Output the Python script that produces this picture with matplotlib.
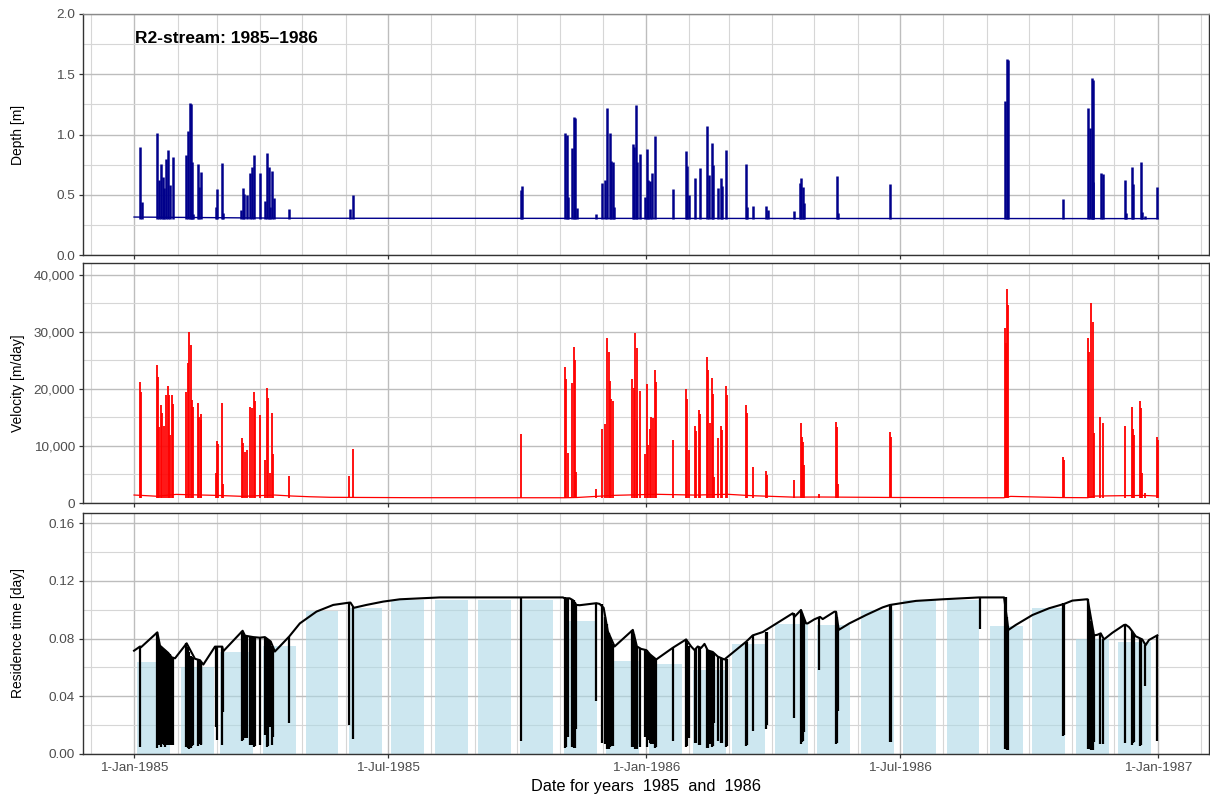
import numpy as np
import matplotlib
matplotlib.use("Agg")
import matplotlib.pyplot as plt
import matplotlib.dates as mdates
from matplotlib.ticker import FuncFormatter, MultipleLocator
from datetime import datetime

plt.rcParams['font.family'] = ['Liberation Sans', 'DejaVu Sans']

# ---------------- data (days counted from 1-Jan-1985) ----------------
depth_base_days = [0, 112, 730]
depth_base_vals = [0.315, 0.305, 0.302]

depth_spike_days = [4.3, 5.5, 16.4, 18.0, 19.2, 20.4, 21.6, 22.6, 24.4, 25.6, 27.6, 37.0, 38.5, 39.7, 40.4,
                    41.3, 42.2, 45.6, 46.3, 47.5, 58.2, 59.3, 62.7, 63.6, 76.4, 77.4, 78.6, 80.3, 82.8, 83.8,
                    85.5, 89.5, 93.5, 94.7, 95.9, 97.1, 98.5, 99.5, 110.6, 153.8, 155.8,
                    276.1, 276.6, 307.5, 308.4, 309.3, 312.2, 313.6, 314.3, 315.5, 329.3, 333.3, 336.0, 337.4,
                    339.0, 340.4, 341.4, 342.4, 355.6, 356.6, 357.6, 358.3, 360.4, 364.5, 365.6, 366.6, 368.0,
                    369.4, 371.6, 384.4, 393.6, 394.4, 395.5, 399.6, 403.3, 408.8, 410.0, 411.7, 412.6, 416.4,
                    418.5, 419.2, 422.1, 436.6, 437.3, 441.6, 450.6, 451.7,
                    470.3, 475.1, 475.5, 476.7, 477.9, 500.9, 501.9, 538.9, 621.1, 622.7, 623.4, 662.6, 680.4,
                    681.4, 682.8, 683.5, 684.0, 689.2, 691.1, 706.5, 707.0, 711.5, 712.4, 717.7, 718.4, 720.8,
                    729.3]
depth_spike_peaks = [0.894, 0.44, 1.015, 0.62, 0.755, 0.645, 0.56, 0.80, 0.87, 0.58, 0.81, 0.83, 1.03, 1.259, 1.25,
                     0.774, 0.34, 0.755, 0.567, 0.69, 0.395, 0.545, 0.76, 0.35, 0.37, 0.56, 0.51, 0.50, 0.68, 0.73,
                     0.83, 0.68, 0.45, 0.85, 0.73, 0.40, 0.70, 0.47, 0.38, 0.38, 0.50,
                     0.54, 0.575, 1.01, 1.0, 0.48, 0.89, 1.148, 1.14, 0.39, 0.34, 0.60, 0.625, 1.217,
                     1.01, 0.78, 0.77, 0.40, 0.92, 0.90, 1.245, 0.77, 0.84, 0.48, 0.88, 0.62, 0.61,
                     0.68, 0.99, 0.55, 0.86, 0.74, 0.50, 0.64, 0.72, 1.07, 0.66, 0.93, 0.75, 0.56,
                     0.64, 0.57, 0.87, 0.755, 0.40, 0.41, 0.405, 0.37,
                     0.368, 0.595, 0.636, 0.567, 0.434, 0.656, 0.35, 0.589, 1.281, 1.624, 1.618, 0.462, 1.217,
                     1.051, 1.466, 1.45, 0.608, 0.678, 0.673, 0.622, 0.35, 0.728, 0.589, 0.774, 0.36, 0.32,
                     0.567]

vel_base_days = [0, 16, 30, 58, 77, 100, 112, 125, 140, 200, 307, 316, 342, 372, 400, 423, 440, 470, 490, 540,
                 600, 620, 625, 660, 680, 685, 720, 730]
vel_base_vals = [1400, 1190, 1510, 1340, 1170, 1400, 1230, 1100, 1000, 930, 920, 970, 1340, 1530, 1390, 1530,
                 1290, 1030, 1050, 970, 920, 920, 1160, 960, 930, 1220, 1330, 1220]

vel_spike_days = [4.3, 5.0, 16.4, 17.1, 17.6, 19.2, 20.2, 21.4, 22.6, 24.0, 24.9, 25.6, 27.3, 28.0, 37.0, 38.2,
                  39.4, 40.4, 41.3, 42.2, 45.4, 46.3, 47.5, 47.9, 58.2, 59.3, 59.8, 62.7, 63.4, 76.9, 77.8, 79.1,
                  80.5, 82.8, 84.0, 85.5, 86.2, 89.5, 93.5, 94.7, 95.7, 96.9, 98.1, 99.2, 110.4, 153.6, 155.8,
                  276.1, 307.2, 308.2, 309.3, 312.2, 313.4, 314.1, 315.3, 329.3, 333.3, 336.0, 337.1, 338.3,
                  339.3, 340.4, 341.6, 355.2, 356.1, 357.1, 358.3, 358.8, 360.4, 364.5, 365.4, 366.6, 367.5,
                  368.9, 369.9, 371.3, 372.0, 384.4, 393.4, 394.4, 395.5, 399.6, 400.3, 403.1, 403.8, 408.8,
                  409.5, 410.5, 411.7, 412.6, 413.6, 416.4, 418.3, 419.0, 421.8, 422.6, 436.4, 437.1, 441.6,
                  450.4, 451.3,
                  470.3, 475.3, 476.2, 477.2, 477.9, 488.6, 500.7, 501.4, 502.1, 538.9, 539.4, 620.6, 621.5,
                  622.5, 623.4, 662.4, 663.1, 680.0, 680.9, 682.3, 683.5, 684.4, 688.9, 691.1, 706.5, 711.5,
                  712.4, 713.2, 717.4, 718.1, 718.4, 720.8, 729.3, 729.8]
vel_spike_peaks = [21170, 19530, 24210, 22050, 13280, 17190, 15850, 13510, 18950, 20580, 18950, 11930, 18950,
                   17370, 19530, 24620, 30060, 27720, 18070, 16780, 17490, 15150, 15560, 14560, 5200, 10930,
                   10290, 17600, 3330, 11460, 10580, 9010, 9300, 16900, 16720, 19420, 17950, 15440, 7540, 20120,
                   18360, 5200, 15730, 8540, 4740, 4800, 9420,
                   12050, 23920, 21750, 8710, 21110, 27430, 25090, 5500, 2460, 12920, 13860, 29010, 26550,
                   21460, 18190, 17950, 21700, 20120, 29770, 27140, 14560, 19710, 8600, 20820, 10180, 12920,
                   15030, 14850, 23330, 21290, 11050, 20000, 18250, 9300, 13570, 12690, 16320, 15610, 25560,
                   23330, 13980, 21870, 19120, 4620, 11340, 13570, 12810, 20580, 18950, 17190, 15730, 6260,
                   5670, 4910,
                   4040, 14090, 11640, 10760, 6670, 1520, 14270, 13390, 3330, 12400, 11640, 30760, 28010,
                   37490, 34740, 8010, 7540, 29010, 26550, 35030, 31810, 12220, 15150, 13980, 13510, 16780,
                   12920, 11930, 17950, 16610, 5200, 1810, 11520, 11050]

rt_env_days = [0, 4.3, 5.0, 16.6, 18.5, 20.9, 24.4, 26.8, 29.2, 37.5, 43.4, 47.0, 49.4, 57.7, 62.9, 63.6, 77.4,
               79.1, 85.0, 89.7, 93.3, 97.4, 100.4, 110.6, 118.2, 130.1, 142.0, 153.4, 154.3, 156.7, 165.7,
               177.6, 189.5, 217.9, 248.6, 276.1, 305.8, 307.0, 310.5, 312.9, 315.3, 317.7, 329.6, 331.9,
               334.8, 337.8, 342.6, 355.6, 358.5, 361.6, 365.2, 368.0, 372.3, 384.1, 393.6, 397.2, 399.6,
               401.9, 404.3, 406.7, 409.0, 412.6, 416.2, 420.9, 436.4, 441.1, 448.2, 469.6, 470.8, 475.5,
               479.1, 480.3, 485.0, 489.1, 491.0, 499.3, 500.5, 502.4, 510.0, 521.9, 533.7, 539.0, 557.5,
               576.4, 602.5, 620.3, 623.4, 628.6, 640.5, 652.4, 663.1, 669.0, 679.0, 679.9, 684.4, 686.8,
               689.2, 691.5, 697.5, 705.8, 707.0, 709.4, 711.7, 714.1, 718.8, 721.2, 723.6, 729.5]
rt_env_vals = [0.0716, 0.0745, 0.0740, 0.0843, 0.075, 0.073, 0.070, 0.067, 0.0663, 0.0767, 0.066, 0.065, 0.062,
               0.0744, 0.0744, 0.0712, 0.0854, 0.082, 0.081, 0.0806, 0.081, 0.078, 0.071, 0.0814, 0.0905,
               0.0987, 0.1033, 0.1049, 0.1049, 0.1013, 0.1033, 0.1056, 0.1072, 0.1085, 0.1085, 0.1085, 0.1085,
               0.1079, 0.1079, 0.1066, 0.1033, 0.1031, 0.1045, 0.104, 0.1013, 0.085, 0.0745, 0.0860, 0.0745,
               0.0728, 0.072, 0.0689, 0.0655, 0.0736, 0.0794, 0.0745, 0.072, 0.0745, 0.0735, 0.0763, 0.0718,
               0.0707, 0.0675, 0.0655, 0.0778, 0.0822, 0.0845, 0.0975, 0.095, 0.0998, 0.0905, 0.0905, 0.0933,
               0.095, 0.0935, 0.0986, 0.0986, 0.0860, 0.0905, 0.0963, 0.1016, 0.1033, 0.1061, 0.1072, 0.1085,
               0.1085, 0.0860, 0.0894, 0.0963, 0.1010, 0.104, 0.1063, 0.1072, 0.1072, 0.0822, 0.0826, 0.0836,
               0.0794, 0.0840, 0.0894, 0.0896, 0.0879, 0.0850, 0.0816, 0.0794, 0.0754, 0.079, 0.0822]

rt_dip_days = [4.3, 16.6, 17.4, 18.3, 19.2, 20.2, 21.2, 22.3, 23.3, 24.3, 25.4, 26.5, 27.6, 37.0, 38.2, 39.4,
               40.4, 41.3, 42.2, 45.4, 46.3, 47.5, 47.9, 58.2, 59.3, 62.7, 63.4, 76.9, 77.8, 79.1, 80.5, 82.8,
               84.0, 85.5, 86.2, 89.5, 93.5, 94.7, 95.7, 96.9, 98.1, 99.2, 110.4, 153.6, 155.8, 276.1, 307.2,
               308.2, 309.3, 312.2, 313.4, 314.1, 315.3, 329.3, 333.3, 336.0, 337.1, 338.3, 339.3, 340.4,
               341.6, 355.2, 356.1, 357.1, 358.3, 358.8, 360.4, 364.5, 365.4, 366.6, 367.5, 368.9, 369.9,
               371.3, 372.0, 384.4, 393.4, 394.4, 395.5, 399.6, 400.3, 403.1, 403.8, 408.8, 409.5, 410.5,
               411.7, 412.6, 413.6, 416.4, 418.3, 419.0, 421.8, 422.6, 436.4, 437.1, 441.6, 450.4, 451.3,
               470.3, 475.3, 476.2, 477.2, 477.9, 488.6, 500.7, 501.4, 502.1, 538.9, 539.4, 602.9, 620.6,
               621.5, 622.5, 623.4, 662.4, 663.1, 680.0, 680.9, 682.3, 683.5, 684.4, 688.9, 691.1, 706.5,
               711.5, 712.4, 713.2, 717.4, 718.1, 720.8, 729.3]
rt_dip_lows = [0.005, 0.0045, 0.006, 0.006, 0.005, 0.007, 0.006, 0.005, 0.006, 0.0065, 0.006, 0.006, 0.006,
               0.0051, 0.004, 0.0035, 0.004, 0.0055, 0.006, 0.0057, 0.0066, 0.0064, 0.0069, 0.019, 0.0097,
               0.0065, 0.029, 0.0087, 0.0095, 0.011, 0.0108, 0.0059, 0.006, 0.0051, 0.0056, 0.0065, 0.013,
               0.005, 0.0054, 0.019, 0.0064, 0.0117, 0.0212, 0.020, 0.0101, 0.0093, 0.0045, 0.005, 0.012,
               0.005, 0.004, 0.004, 0.017, 0.037, 0.0074, 0.0072, 0.0034, 0.0038, 0.0047, 0.0055, 0.0056,
               0.0046, 0.005, 0.0034, 0.0037, 0.0069, 0.0051, 0.0116, 0.0048, 0.0098, 0.0077, 0.0067, 0.0067,
               0.0043, 0.0047, 0.009, 0.005, 0.0055, 0.0108, 0.0074, 0.0079, 0.0061, 0.0064, 0.0039, 0.0043,
               0.0072, 0.0046, 0.0052, 0.0216, 0.0088, 0.0074, 0.0078, 0.0049, 0.0053, 0.0058, 0.0064, 0.016,
               0.0176, 0.0204, 0.0248, 0.0071, 0.0086, 0.0093, 0.015, 0.0582, 0.007, 0.0075, 0.030, 0.0081,
               0.0086, 0.0864, 0.0033, 0.0036, 0.0027, 0.0029, 0.0125, 0.0133, 0.0034, 0.0038, 0.0029, 0.0031,
               0.0082, 0.0066, 0.0072, 0.0074, 0.006, 0.0077, 0.0084, 0.0056, 0.006, 0.047, 0.0087]
rt_dip_tops = [0.0745, 0.0843, 0.080, 0.0755, 0.0745, 0.0735, 0.0728, 0.0718, 0.0710, 0.0700, 0.0690, 0.0675,
               0.0668, 0.0767, 0.074, 0.071, 0.068, 0.067, 0.0665, 0.0655, 0.065, 0.064, 0.063, 0.0744, 0.0744,
               0.0744, 0.0712, 0.0854, 0.084, 0.082, 0.0815, 0.081, 0.081, 0.081, 0.0805, 0.0806, 0.081, 0.080,
               0.079, 0.078, 0.075, 0.073, 0.0814, 0.1049, 0.1020, 0.1085, 0.1085, 0.108, 0.108, 0.107, 0.1066,
               0.105, 0.1033, 0.1045, 0.104, 0.095, 0.090, 0.084, 0.081, 0.078, 0.076, 0.086, 0.083, 0.079,
               0.0745, 0.074, 0.073, 0.0722, 0.072, 0.071, 0.0695, 0.068, 0.067, 0.066, 0.0655, 0.0736, 0.0794,
               0.077, 0.0745, 0.072, 0.0725, 0.074, 0.0735, 0.0725, 0.0718, 0.0715, 0.071, 0.0707, 0.070,
               0.0675, 0.0668, 0.0665, 0.066, 0.0655, 0.0778, 0.0776, 0.0822, 0.0845, 0.0843, 0.0975, 0.0998,
               0.098, 0.095, 0.092, 0.095, 0.0986, 0.095, 0.088, 0.1033, 0.1033, 0.1085, 0.1085, 0.1085, 0.095,
               0.086, 0.1045, 0.104, 0.1072, 0.100, 0.092, 0.086, 0.0822, 0.0836, 0.0794, 0.0896, 0.085, 0.084,
               0.083, 0.080, 0.0794, 0.0754, 0.0822]

bar_months = ['1985-01-15', '1985-02-15', '1985-03-15', '1985-04-15', '1985-05-15', '1985-06-15',
              '1985-07-15', '1985-08-15', '1985-09-15', '1985-10-15', '1985-11-15', '1985-12-15',
              '1986-01-15', '1986-02-15', '1986-03-15', '1986-04-15', '1986-05-15', '1986-06-15',
              '1986-07-15', '1986-08-15', '1986-09-15', '1986-10-15', '1986-11-15', '1986-12-15']
bar_values = [0.064, 0.0605, 0.0704, 0.0748, 0.0993, 0.101, 0.1067, 0.107, 0.107, 0.1067, 0.0923, 0.0644,
              0.0626, 0.0582, 0.076, 0.0898, 0.0893, 0.0997, 0.1067, 0.107, 0.089, 0.1013, 0.0794, 0.0778]

title_text = 'R2-stream: 1985\u20131986'
xlabel_text = 'Date for years  1985  and  1986'

# ---------------- helpers ----------------
T0 = mdates.date2num(datetime(1985, 1, 1))


def dnum(days):
    return T0 + np.asarray(days, dtype=float)


W_PX, H_PX = 1210, 798
fig = plt.figure(figsize=(W_PX / 100, H_PX / 100), dpi=100)
L = 83 / W_PX
W = (1209 - 83) / W_PX
ax1 = fig.add_axes([L, 1 - 255 / H_PX, W, 241 / H_PX])
ax2 = fig.add_axes([L, 1 - 503 / H_PX, W, 240 / H_PX])
ax3 = fig.add_axes([L, 1 - 754 / H_PX, W, 241 / H_PX])


def date_fmt(v, pos):
    d = mdates.num2date(v)
    return f"{d.day}-{d.strftime('%b-%Y')}"


def style(ax, ylim, ymaj, ymin, fmt, show_x):
    ax.set_xlim(T0 - 36.4, T0 + 766.4)
    ax.set_ylim(*ylim)
    ax.xaxis.set_major_locator(mdates.MonthLocator(bymonth=[1, 7]))
    ax.xaxis.set_minor_locator(mdates.MonthLocator())
    ax.xaxis.set_major_formatter(FuncFormatter(date_fmt))
    ax.yaxis.set_major_locator(MultipleLocator(ymaj))
    ax.yaxis.set_minor_locator(MultipleLocator(ymin))
    ax.yaxis.set_major_formatter(FuncFormatter(fmt))
    ax.set_axisbelow(True)
    ax.grid(which='major', color='#BDBDBD', lw=1.0, zorder=0)
    ax.grid(which='minor', color='#D6D6D6', lw=0.8, zorder=0)
    ax.tick_params(which='minor', length=0)
    ax.tick_params(which='major', length=3.2, width=0.9, color='#333333',
                   labelsize=9.7, labelcolor='#4D4D4D', pad=2.5)
    ax.tick_params(axis='x', labelbottom=show_x)
    for s in ax.spines.values():
        s.set_color('#333333')
        s.set_linewidth(1.0)


style(ax1, (0, 2.0), 0.5, 0.25, lambda v, p: f"{v:.1f}", False)
style(ax2, (0, 42100), 10000, 5000, lambda v, p: f"{v:,.0f}", False)
style(ax3, (0, 0.167), 0.04, 0.02, lambda v, p: f"{v:.2f}", True)
ax1.spines['top'].set_color('#8A8A8A')

LABEL_X = -0.0515

# ---- depth ----
DEPTH_C = '#00008B'
ax1.plot(dnum(depth_base_days), depth_base_vals, color=DEPTH_C, lw=1.0, zorder=3)
ax1.vlines(dnum(depth_spike_days), 0.302, depth_spike_peaks, color=DEPTH_C, lw=1.8, zorder=3)
ax1.text(dnum([0.7])[0], 1.8, title_text, fontweight='bold', fontsize=12.5, ha='left', va='center')
ax1.set_ylabel('Depth [m]', fontsize=10)
ax1.yaxis.set_label_coords(LABEL_X, 0.5)

# ---- velocity ----
VEL_C = '#FF0000'
ax2.plot(dnum(vel_base_days), vel_base_vals, color=VEL_C, lw=0.9, zorder=3)
ax2.vlines(dnum(vel_spike_days), 800, vel_spike_peaks, color=VEL_C, lw=1.3, zorder=3)
ax2.set_ylabel('Velocity [m/day]', fontsize=10)
ax2.yaxis.set_label_coords(LABEL_X, 0.5)

# ---- residence time ----
bar_x = np.array([mdates.date2num(datetime.strptime(m, '%Y-%m-%d')) for m in bar_months])
ax3.bar(bar_x, bar_values, width=23.5, color='#ADD8E6', alpha=0.6, lw=0, zorder=1.5)
ax3.plot(dnum(rt_env_days), rt_env_vals, color='black', lw=1.5, zorder=3)
ax3.vlines(dnum(rt_dip_days), rt_dip_lows, rt_dip_tops, color='black', lw=1.6, zorder=3)
ax3.set_ylabel('Residence time [day]', fontsize=10)
ax3.yaxis.set_label_coords(LABEL_X, 0.5)

fig.text((83 + 1209) / 2 / W_PX, 1 - 787 / H_PX, xlabel_text, fontsize=11.8, ha='center', va='center')

fig.savefig('out.png', dpi=100)
